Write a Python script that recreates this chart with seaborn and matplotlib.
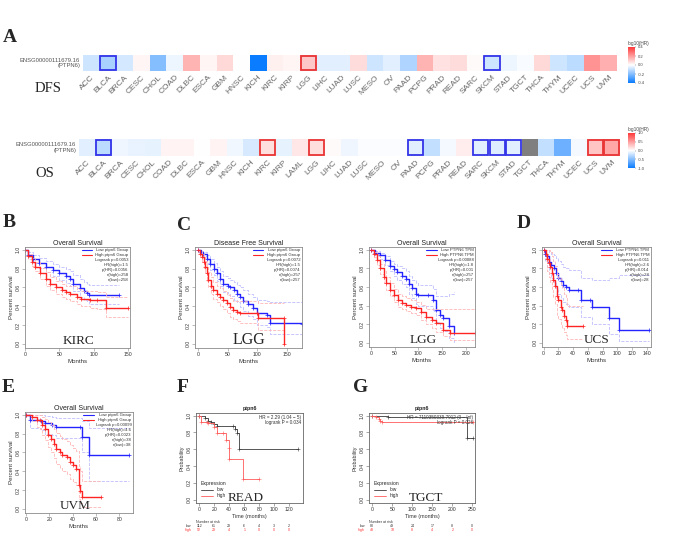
"""
PTPN6 prognostic value across cancers: GEPIA heatmaps + Kaplan-Meier panels
"""

import numpy as np
import pandas as pd
import matplotlib
matplotlib.use("Agg")
import matplotlib.pyplot as plt
import seaborn as sns
from matplotlib.colors import LinearSegmentedColormap
from matplotlib.patches import Rectangle
from matplotlib.lines import Line2D

# ---------------- data: panel A (log10 HR) ----------------
gene_label = "ENSG00000111679.16\n(PTPN6)"

dfs_types = ["ACC", "BLCA", "BRCA", "CESC", "CHOL", "COAD", "DLBC", "ESCA", "GBM",
             "HNSC", "KICH", "KIRC", "KIRP", "LGG", "LIHC", "LUAD", "LUSC", "MESO",
             "OV", "PAAD", "PCPG", "PRAD", "READ", "SARC", "SKCM", "STAD", "TGCT",
             "THCA", "THYM", "UCEC", "UCS", "UVM"]
dfs_log_hr = [-0.08, -0.14, -0.07, 0.02, -0.2, -0.03, 0.15, 0.02, 0.08,
              0.0, -0.4, 0.03, 0.02, 0.11, -0.05, -0.05, 0.07, -0.08,
              -0.05, -0.13, 0.15, 0.06, 0.07, 0.01, -0.08, -0.03, -0.01,
              0.08, -0.08, -0.11, 0.22, 0.16]
dfs_sig = {"BLCA": "low", "LGG": "high", "SKCM": "low"}

os_types = ["ACC", "BLCA", "BRCA", "CESC", "CHOL", "COAD", "DLBC", "ESCA", "GBM",
            "HNSC", "KICH", "KIRC", "KIRP", "LAML", "LGG", "LIHC", "LUAD", "LUSC",
            "MESO", "OV", "PAAD", "PCPG", "PRAD", "READ", "SARC", "SKCM", "STAD",
            "TGCT", "THCA", "THYM", "UCEC", "UCS", "UVM"]
os_log_hr = [-0.12, -0.28, -0.07, -0.09, -0.1, 0.06, 0.06, 0.0, 0.06,
             -0.06, -0.17, 0.17, -0.1, 0.12, 0.17, 0.03, -0.07, -0.02,
             -0.02, -0.02, -0.12, -0.25, -0.04, 0.1, -0.12, -0.14, -0.12,
             np.nan, -0.25, -0.6, -0.04, 0.3, 0.45]
os_sig = {"BLCA": "low", "KIRC": "high", "LGG": "high", "PAAD": "low", "SARC": "low",
          "SKCM": "low", "STAD": "low", "UCS": "high", "UVM": "high"}

# ---------------- data: GEPIA survival curves ----------------
# B: KIRC overall survival
b_low_t = [0, 5, 12, 20, 30, 40, 50, 60, 65, 70, 80, 85, 90, 93, 137]
b_low_s = [1, 0.95, 0.9, 0.86, 0.82, 0.78, 0.75, 0.72, 0.69, 0.64, 0.59, 0.56, 0.54, 0.52, 0.52]
b_low_hi = [1, 0.98, 0.94, 0.91, 0.88, 0.85, 0.82, 0.8, 0.77, 0.73, 0.69, 0.66, 0.64, 0.63, 0.63]
b_low_lo = [1, 0.92, 0.86, 0.81, 0.76, 0.72, 0.68, 0.65, 0.61, 0.56, 0.5, 0.47, 0.45, 0.42, 0.42]
b_high_t = [0, 5, 10, 15, 22, 30, 36, 45, 53, 60, 65, 75, 82, 95, 104, 118, 150]
b_high_s = [1, 0.93, 0.87, 0.82, 0.75, 0.69, 0.64, 0.6, 0.57, 0.55, 0.535, 0.5, 0.48, 0.47, 0.465, 0.38, 0.38]
b_high_hi = [1, 0.96, 0.91, 0.87, 0.81, 0.76, 0.71, 0.67, 0.64, 0.62, 0.61, 0.58, 0.56, 0.56, 0.55, 0.5, 0.5]
b_high_lo = [1, 0.9, 0.83, 0.77, 0.69, 0.62, 0.57, 0.53, 0.5, 0.48, 0.46, 0.42, 0.4, 0.38, 0.37, 0.28, 0.28]
b_notes = ["Low ptpn6 Group", "High ptpn6 Group", "Logrank p=0.0053", "HR(high)=1.5",
           "p(HR)=0.0056", "n(high)=258", "n(low)=258"]

# C (left): LGG disease free survival
c1_low_t = [0, 5, 8, 14, 20, 26, 31, 37, 42, 50, 54, 60, 65, 70, 76, 85, 93, 99, 116, 122, 176]
c1_low_s = [1, 0.98, 0.96, 0.9, 0.85, 0.8, 0.75, 0.69, 0.64, 0.62, 0.6, 0.57, 0.535, 0.5, 0.46,
            0.42, 0.38, 0.33, 0.31, 0.22, 0.21]
c1_low_hi = [1, 0.99, 0.98, 0.94, 0.9, 0.86, 0.82, 0.77, 0.72, 0.7, 0.68, 0.66, 0.63, 0.6, 0.57,
             0.53, 0.5, 0.47, 0.45, 0.44, 0.44]
c1_low_lo = [1, 0.96, 0.93, 0.86, 0.79, 0.73, 0.67, 0.61, 0.55, 0.53, 0.51, 0.47, 0.44, 0.39, 0.35,
             0.3, 0.26, 0.2, 0.18, 0.1, 0.1]
c1_high_t = [0, 3, 6, 9, 11, 14, 17, 21, 25, 31, 37, 42, 48, 54, 59, 65, 71, 99, 102, 145, 145]
c1_high_s = [1, 0.96, 0.92, 0.87, 0.82, 0.75, 0.68, 0.62, 0.57, 0.53, 0.5, 0.47, 0.43, 0.39, 0.36,
             0.34, 0.33, 0.33, 0.27, 0.27, 0.0]
c1_high_hi = [1, 0.99, 0.96, 0.92, 0.88, 0.82, 0.76, 0.71, 0.66, 0.62, 0.59, 0.56, 0.52, 0.49, 0.46,
              0.45, 0.45, 0.45, 0.43, 0.43, 0.43]
c1_high_lo = [1, 0.92, 0.87, 0.81, 0.75, 0.67, 0.6, 0.53, 0.48, 0.44, 0.4, 0.37, 0.33, 0.29, 0.26,
              0.24, 0.22, 0.22, 0.15, 0.12, 0.12]
c1_notes = ["Low ptpn6 Group", "High ptpn6 Group", "Logrank p=0.0072", "HR(high)=1.5",
            "p(HR)=0.0074", "n(high)=257", "n(low)=257"]

# C (right): LGG overall survival
c2_low_t = [0, 10, 20, 30, 40, 48, 55, 65, 75, 80, 86, 95, 100, 121, 131, 138, 145, 152, 165, 175]
c2_low_s = [1, 0.97, 0.94, 0.89, 0.83, 0.79, 0.76, 0.72, 0.69, 0.63, 0.585, 0.53, 0.51, 0.51, 0.46,
            0.355, 0.3, 0.27, 0.18, 0.105]
c2_low_hi = [1, 0.99, 0.97, 0.93, 0.88, 0.85, 0.83, 0.8, 0.77, 0.72, 0.68, 0.64, 0.62, 0.62, 0.58,
             0.5, 0.5, 0.5, 0.52, 0.55]
c2_low_lo = [1, 0.95, 0.9, 0.84, 0.77, 0.72, 0.68, 0.63, 0.6, 0.53, 0.48, 0.42, 0.4, 0.4, 0.34,
             0.22, 0.16, 0.13, 0.05, 0.0]
c2_high_t = [0, 7, 13, 20, 27, 33, 40, 48, 58, 66, 75, 85, 96, 105, 117, 128, 138, 152, 166, 218]
c2_high_s = [1, 0.95, 0.89, 0.8, 0.71, 0.64, 0.57, 0.51, 0.46, 0.43, 0.41, 0.39, 0.37, 0.33, 0.28,
             0.25, 0.21, 0.14, 0.105, 0.105]
c2_high_hi = [1, 0.98, 0.93, 0.85, 0.77, 0.71, 0.64, 0.58, 0.53, 0.5, 0.48, 0.46, 0.44, 0.41, 0.36,
              0.36, 0.36, 0.36, 0.36, 0.36]
c2_high_lo = [1, 0.92, 0.84, 0.74, 0.64, 0.57, 0.5, 0.44, 0.39, 0.36, 0.34, 0.32, 0.3, 0.25, 0.2,
              0.16, 0.12, 0.07, 0.03, 0.03]
c2_notes = ["Low PTPN6 TPM", "High PTPN6 TPM", "Logrank p=0.00088", "HR(high)=1.8",
            "p(HR)=0.001", "n(high)=257", "n(low)=257"]

# D: UCS overall survival
d_low_t = [0, 2, 5, 7, 10, 14, 17, 20, 23, 26, 30, 34, 47, 51, 63, 66, 88, 102, 143]
d_low_s = [1, 0.96, 0.93, 0.87, 0.84, 0.8, 0.75, 0.7, 0.66, 0.62, 0.6, 0.57, 0.57, 0.46, 0.46,
           0.39, 0.27, 0.135, 0.135]
d_low_hi = [1, 1, 1, 0.98, 0.96, 0.94, 0.91, 0.88, 0.85, 0.82, 0.8, 0.78, 0.78, 0.7, 0.7,
            0.67, 0.7, 0.73, 0.73]
d_low_lo = [1, 0.88, 0.82, 0.74, 0.7, 0.65, 0.59, 0.53, 0.48, 0.44, 0.42, 0.39, 0.39, 0.28, 0.28,
            0.2, 0.1, 0.02, 0.02]
d_high_t = [0, 3, 5, 7, 9, 11, 13, 15, 18, 20, 23, 25, 27, 30, 32, 54]
d_high_s = [1, 0.96, 0.9, 0.86, 0.82, 0.75, 0.68, 0.61, 0.5, 0.46, 0.39, 0.35, 0.29, 0.25, 0.18, 0.18]
d_high_hi = [1, 1, 1, 1, 0.98, 0.93, 0.88, 0.83, 0.74, 0.7, 0.63, 0.59, 0.53, 0.48, 0.4, 0.4]
d_high_lo = [1, 0.88, 0.77, 0.71, 0.65, 0.57, 0.49, 0.42, 0.3, 0.26, 0.2, 0.16, 0.12, 0.08, 0.04, 0.04]
d_notes = ["Low PTPN6 TPM", "High PTPN6 TPM", "Logrank p=0.011", "HR(high)=2.6",
           "p(HR)=0.014", "n(high)=28", "n(low)=28"]

# E: UVM overall survival
e_low_t = [0, 3, 13, 16, 22, 26, 46, 48, 54, 88]
e_low_s = [1, 0.945, 0.935, 0.91, 0.895, 0.87, 0.87, 0.765, 0.57, 0.57]
e_low_hi = [1, 1, 1, 0.99, 0.98, 0.97, 0.97, 0.93, 0.86, 0.86]
e_low_lo = [1, 0.86, 0.84, 0.8, 0.78, 0.75, 0.75, 0.6, 0.3, 0.3]
e_high_t = [0, 5, 9, 12, 14, 16, 19, 21, 24, 26, 29, 31, 35, 38, 40, 43, 45, 46, 48, 64]
e_high_s = [1, 0.975, 0.95, 0.94, 0.89, 0.85, 0.79, 0.745, 0.69, 0.64, 0.6, 0.57, 0.55, 0.5,
            0.47, 0.425, 0.25, 0.19, 0.125, 0.125]
e_high_hi = [1, 1, 1, 1, 0.98, 0.96, 0.92, 0.89, 0.85, 0.81, 0.77, 0.74, 0.72, 0.68, 0.65, 0.61,
             0.45, 0.4, 0.3, 0.3]
e_high_lo = [1, 0.93, 0.87, 0.85, 0.78, 0.73, 0.66, 0.6, 0.54, 0.48, 0.43, 0.4, 0.37, 0.32, 0.29,
             0.25, 0.1, 0.06, 0.02, 0.02]
e_notes = ["Low ptpn6 Group", "High ptpn6 Group", "Logrank p=0.00099", "HR(high)=4.6",
           "p(HR)=0.0023", "n(high)=38", "n(low)=38"]

# ---------------- data: KM plotter panels ----------------
# F: READ
f_low_t = [0, 8, 12, 16, 19, 24, 45, 48, 50, 53, 132]
f_low_s = [1, 0.97, 0.94, 0.92, 0.9, 0.88, 0.88, 0.84, 0.79, 0.6, 0.6]
f_high_t = [0, 2, 10, 12, 19, 23, 32, 36, 39, 40, 58, 80]
f_high_s = [1, 0.93, 0.93, 0.91, 0.87, 0.79, 0.79, 0.71, 0.61, 0.48, 0.24, 0.24]
f_hr = ["HR = 2.29 (1.04 \u2212 5)", "logrank P = 0.034"]
f_risk_t = [0, 20, 40, 60, 80, 100, 120]
f_risk_low = [112, 61, 29, 6, 4, 3, 2]
f_risk_high = [52, 29, 4, 1, 0, 0, 0]

# G: TGCT
g_low_t = [0, 40, 236, 252]
g_low_s = [1, 0.99, 0.74, 0.74]
g_high_t = [0, 10, 16, 20, 25, 252]
g_high_s = [1, 0.98, 0.96, 0.94, 0.925, 0.925]
g_hr = ["HR = 7110350339.7912 (0 \u2212 Inf)", "logrank P = 0.026"]
g_risk_t = [0, 50, 100, 150, 200, 250]
g_risk_low = [80, 49, 24, 17, 8, 0]
g_risk_high = [48, 18, 8, 4, 2, 0]

# ---------------- figure ----------------
sns.set_theme(style="ticks")
plt.rcParams["font.family"] = ["Liberation Sans", "DejaVu Sans"]
plt.rcParams["axes.unicode_minus"] = True
SERIF = ["Liberation Serif", "DejaVu Serif"]

W, H = 685, 535
fig = plt.figure(figsize=(W / 100, H / 100), dpi=100)
fig.patch.set_facecolor("white")


def rect(x0, y0, x1, y1):
    """pixel box (top-left origin) -> figure fraction rect"""
    return [x0 / W, 1 - y1 / H, (x1 - x0) / W, (y1 - y0) / H]


hr_cmap = LinearSegmentedColormap.from_list("hr", ["#0A7CFF", "#FFFFFF", "#FF3A3A"])


def hr_heatmap(box, cbox, types, values, sig, vmax, name, name_xy):
    ax = fig.add_axes(rect(*box))
    cax = fig.add_axes(rect(*cbox))
    df = pd.DataFrame([values], columns=types, index=[gene_label])
    ax.set_facecolor("#7F7F7F")
    sns.heatmap(df, ax=ax, cbar_ax=cax, cmap=hr_cmap, vmin=-vmax, vmax=vmax,
                xticklabels=True, yticklabels=True)
    ax.set_xticklabels(types, rotation=45, ha="right", rotation_mode="anchor",
                       fontsize=6, color="#666666")
    ax.set_yticklabels([gene_label], rotation=0, fontsize=4.2, color="#555555",
                       ha="right", va="center", multialignment="right")
    ax.tick_params(length=0, pad=2)
    ax.set_xlabel("")
    ax.set_ylabel("")
    for i, t in enumerate(types):
        if t in sig:
            col = "#3434E8" if sig[t] == "low" else "#E83434"
            ax.add_patch(Rectangle((i + 0.04, 0.05), 0.92, 0.9, fill=False,
                                   edgecolor=col, lw=1.3))
    ticks = [vmax, vmax / 2, 0, -vmax / 2, -vmax]
    cax.set_yticks(ticks)
    cax.set_yticklabels([f"{v:.1f}" for v in ticks])
    cax.tick_params(labelsize=3, length=1, width=0.3, pad=1, colors="#444444")
    cax.set_title("log10(HR)", fontsize=3.4, pad=1.5, color="#444444", loc="left")
    fig.text(name_xy[0] / W, 1 - name_xy[1] / H, name, family=SERIF, fontsize=10.5,
             va="baseline")


hr_heatmap((83, 55, 617, 71), (628, 47, 635, 83), dfs_types, dfs_log_hr, dfs_sig, 0.4,
           "DFS", (35, 92))
hr_heatmap((79, 139, 620, 156), (628, 133, 635, 168), os_types, os_log_hr, os_sig, 1.0,
           "OS", (35, 177))

BLUE, RED = "#2424FF", "#FF2424"
PBLUE, PRED = "#BEBEFF", "#FFB6B6"


def style_r_axes(ax, xticks, xlim, ylim, spine_col):
    ax.set_xlim(xlim)
    ax.set_ylim(ylim)
    ax.set_xticks(xticks)
    ax.set_yticks([0, 0.2, 0.4, 0.6, 0.8, 1.0])
    ax.set_yticklabels(["0.0", "0.2", "0.4", "0.6", "0.8", "1.0"], rotation=90, va="center")
    ax.tick_params(labelsize=3.7, length=2, width=0.4, pad=1, color=spine_col,
                   labelcolor="#333333")
    for sp in ax.spines.values():
        sp.set_color(spine_col)
        sp.set_linewidth(0.6)
        sp.set_visible(True)


def gepia_panel(box, curves, notes, title, xticks, xlim, tag, tag_x, tag_size=9.5):
    ax = fig.add_axes(rect(*box))
    for t, s, hi, lo, col, pale in curves:
        for band in (hi, lo):
            sns.lineplot(x=t, y=band, ax=ax, color=pale, lw=0.6, ls="--",
                         drawstyle="steps-post", estimator=None, sort=False)
        sns.lineplot(x=t, y=s, ax=ax, color=col, lw=1.0, drawstyle="steps-post",
                     estimator=None, sort=False, marker="+", markersize=2.5,
                     markeredgecolor=col, markeredgewidth=0.5)
    style_r_axes(ax, xticks, xlim, (-0.045, 1.03), "#8A8A8A")
    ax.set_title(title, fontsize=5, pad=1.5, color="#222222")
    ax.set_xlabel("Months", fontsize=4.4, labelpad=1.5, color="#333333")
    ax.set_ylabel("Percent survival", fontsize=4.4, labelpad=1.5, color="#333333")
    for i, line in enumerate(notes):
        y = 0.967 - 0.049 * i
        ax.text(0.985, y, line, ha="right", va="center", fontsize=3.1,
                transform=ax.transAxes, color="#333333")
        if i < 2:
            ax.plot([0.54, 0.64], [y, y], color=[BLUE, RED][i], lw=0.8,
                    transform=ax.transAxes)
    ax.text(tag_x, 0.04, tag, family=SERIF, fontsize=tag_size, ha="center",
            va="baseline", transform=ax.transAxes)
    return ax


gepia_panel((25, 247, 130, 348), [(b_low_t, b_low_s, b_low_hi, b_low_lo, BLUE, PBLUE),
                                  (b_high_t, b_high_s, b_high_hi, b_high_lo, RED, PRED)],
            b_notes, "Overall Survival", [0, 50, 100, 150], (0, 152.4), "KIRC", 0.51)
gepia_panel((195, 247, 302, 348), [(c1_low_t, c1_low_s, c1_low_hi, c1_low_lo, BLUE, PBLUE),
                                   (c1_high_t, c1_high_s, c1_high_hi, c1_high_lo, RED, PRED)],
            c1_notes, "Disease Free Survival", [0, 50, 100, 150], (-5.6, 176), "LGG", 0.5,
            tag_size=11.5)
gepia_panel((369, 247, 475, 347), [(c2_low_t, c2_low_s, c2_low_hi, c2_low_lo, BLUE, PBLUE),
                                   (c2_high_t, c2_high_s, c2_high_hi, c2_high_lo, RED, PRED)],
            c2_notes, "Overall Survival", [0, 50, 100, 150, 200], (-3.6, 219), "LGG", 0.51)
gepia_panel((542, 247, 651, 347), [(d_low_t, d_low_s, d_low_hi, d_low_lo, BLUE, PBLUE),
                                   (d_high_t, d_high_s, d_high_hi, d_high_lo, RED, PRED)],
            d_notes, "Overall Survival", list(range(0, 141, 20)), (-2.2, 145.5), "UCS", 0.5)
gepia_panel((25, 412, 133, 513), [(e_low_t, e_low_s, e_low_hi, e_low_lo, BLUE, PBLUE),
                                  (e_high_t, e_high_s, e_high_hi, e_high_lo, RED, PRED)],
            e_notes, "Overall Survival", [0, 20, 40, 60, 80], (-0.9, 91.7), "UVM", 0.46)

KLOW, KHIGH = "#3A3A3A", "#FF5A5A"


def kmplot_panel(box, low, high, hr_lines, xticks, xlim, tag, tag_x, risk_t, risk_low, risk_high):
    ax = fig.add_axes(rect(*box))
    for (t, s), col in ((low, KLOW), (high, KHIGH)):
        sns.lineplot(x=t, y=s, ax=ax, color=col, lw=0.6, drawstyle="steps-post",
                     estimator=None, sort=False, marker="+", markersize=2.2,
                     markeredgecolor=col, markeredgewidth=0.4)
    style_r_axes(ax, xticks, xlim, (-0.04, 1.032), "#666666")
    ax.set_title("ptpn6", fontsize=3.8, pad=2, fontweight="bold", color="#222222")
    ax.set_xlabel("Time (months)", fontsize=3.9, labelpad=1.5, color="#333333")
    ax.set_ylabel("Probability", fontsize=3.9, labelpad=1.5, color="#333333")
    for i, line in enumerate(hr_lines):
        ax.text(0.98, 0.955 - 0.06 * i, line, ha="right", va="center", fontsize=3.3,
                transform=ax.transAxes, color="#333333")
    handles = [Line2D([], [], color=KLOW, lw=0.6), Line2D([], [], color=KHIGH, lw=0.6)]
    leg = ax.legend(handles, ["low", "high"], title="Expression", loc="lower left",
                    fontsize=3.4, title_fontsize=3.7, frameon=False, handlelength=2.6,
                    borderaxespad=0.6, labelspacing=0.2)
    leg._legend_box.align = "left"
    ax.text(tag_x, 0.02, tag, family=SERIF, fontsize=9.5, ha="center", va="baseline",
            transform=ax.transAxes)
    tr = ax.get_xaxis_transform()
    ax.text(0.0, -0.21, "Number at risk", fontsize=2.6, transform=ax.transAxes,
            color="#333333", va="center")
    for row, (lab, vals, col) in enumerate((("low", risk_low, "#333333"),
                                            ("high", risk_high, "#FF3333"))):
        y = -0.26 - 0.045 * row
        ax.text(-0.04, y, lab, fontsize=2.6, ha="right", va="center",
                transform=ax.transAxes, color=col)
        for t, n in zip(risk_t, vals):
            ax.text(t, y, str(n), fontsize=2.6, ha="center", va="center",
                    transform=tr, color=col)
    return ax


kmplot_panel((196, 413, 303, 503), (f_low_t, f_low_s), (f_high_t, f_high_s), f_hr,
             [0, 20, 40, 60, 80, 100, 120], (-4.4, 138.3), "READ", 0.46,
             f_risk_t, f_risk_low, f_risk_high)
kmplot_panel((369, 413, 475, 503), (g_low_t, g_low_s), (g_high_t, g_high_s), g_hr,
             [0, 50, 100, 150, 200, 250], (-8.3, 256.7), "TGCT", 0.54,
             g_risk_t, g_risk_low, g_risk_high)

# panel letters
for letter, x, y in [("A", 3, 42), ("B", 3, 227), ("C", 177, 230), ("D", 517, 228),
                     ("E", 2, 392), ("F", 177, 392), ("G", 353, 392)]:
    fig.text(x / W, 1 - y / H, letter, family=SERIF, fontsize=14, fontweight="bold",
             va="baseline")

fig.savefig("out.png", dpi=100)
